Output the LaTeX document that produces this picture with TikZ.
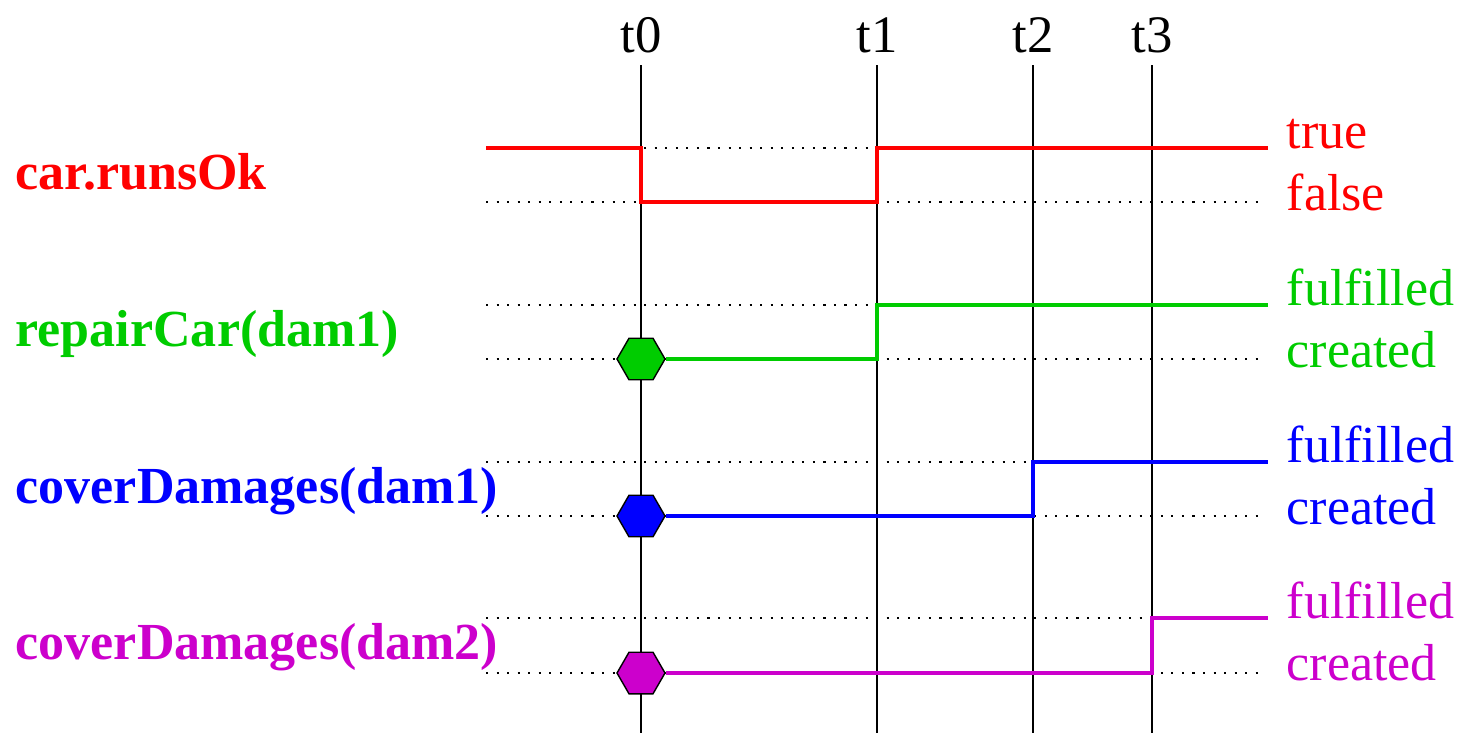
\documentclass[tikz,border=0pt]{standalone}
\usepackage{fontspec}
\setmainfont{Liberation Serif}
\usetikzlibrary{shapes.geometric,positioning,calc}
\definecolor{sigred}{HTML}{FF0000}
\definecolor{siggreen}{HTML}{00CC00}
\definecolor{sigblue}{HTML}{0000FF}
\definecolor{sigmagenta}{HTML}{CC00CC}

\begin{document}
\begin{tikzpicture}[
  tline/.style={line width=0.6pt, black},
  grid/.style={line width=0.6pt, dash pattern=on 0.6pt off 2.4pt},
  sig/.style={line width=1.35pt, draw=#1},
  evt/.style={regular polygon, regular polygon sides=6, draw, line width=0.4pt, fill=#1, minimum size=0.48cm, inner sep=0pt},
  tlab/.style={anchor=base, inner sep=0pt, font=\fontsize{15}{17}\selectfont},
  signame/.style={anchor=base west, inner sep=0pt, text=#1, font=\fontsize{14.8}{17}\selectfont\bfseries},
  sigval/.style={anchor=base west, inner sep=0pt, text=#1, font=\fontsize{14.8}{17}\selectfont}
]
  \useasboundingbox (0,0) rectangle (14.58,-7.33);

  % time lines
  \foreach \n/\x in {0/6.41,1/8.77,2/10.33,3/11.52}{
    \node[tlab] (l\n) at (\x,-0.52) {t\n};
    \coordinate (t\n) at (\x,-0.65);
    \coordinate (b\n) at (\x,-7.33);
    \draw[tline] (t\n) -- (b\n);
  }

  % signal levels
  \coordinate (rH) at (4.86,-1.48);
  \coordinate (rL) at (4.86,-2.02);
  \coordinate (gH) at (4.86,-3.05);
  \coordinate (gL) at (4.86,-3.59);
  \coordinate (bH) at (4.86,-4.62);
  \coordinate (bL) at (4.86,-5.16);
  \coordinate (mH) at (4.86,-6.18);
  \coordinate (mL) at (4.86,-6.73);
  \coordinate (eD) at (12.65,0);
  \coordinate (eS) at (12.68,0);

  % dotted guides
  \foreach \c in {rH,rL,gH,gL,bH,bL,mH,mL}
    \draw[grid] (\c) -- (\c -| eD);

  % names
  \node[signame=sigred] (nr) at (0.15,-1.89) {car.runsOk};
  \node[signame=siggreen] (ng) at (0.15,-3.46) {repairCar(dam1)};
  \node[signame=sigblue] (nb) at (0.15,-5.03) {coverDamages(dam1)};
  \node[signame=sigmagenta] (nm) at (0.15,-6.59) {coverDamages(dam2)};

  % values
  \node[sigval=sigred] (vr1) at (12.86,-1.48) {true};
  \node[sigval=sigred] (vr2) at (12.86,-2.10) {false};
  \node[sigval=siggreen] (vg1) at (12.86,-3.05) {fulfilled};
  \node[sigval=siggreen] (vg2) at (12.86,-3.67) {created};
  \node[sigval=sigblue] (vb1) at (12.86,-4.62) {fulfilled};
  \node[sigval=sigblue] (vb2) at (12.86,-5.24) {created};
  \node[sigval=sigmagenta] (vm1) at (12.86,-6.18) {fulfilled};
  \node[sigval=sigmagenta] (vm2) at (12.86,-6.80) {created};

  % car.runsOk
  \draw[sig=sigred] (rH) -- (rH -| t0) -- (rL -| t0) -- (rL -| t1) -- (rH -| t1) -- (rH -| eS);

  % obligations
  \node[evt=siggreen] (hg) at (gL -| t0) {};
  \draw[sig=siggreen] (hg) -- (gL -| t1) -- (gH -| t1) -- (gH -| eS);

  \node[evt=sigblue] (hb) at (bL -| t0) {};
  \draw[sig=sigblue] (hb) -- (bL -| t2) -- (bH -| t2) -- (bH -| eS);

  \node[evt=sigmagenta] (hm) at (mL -| t0) {};
  \draw[sig=sigmagenta] (hm) -- (mL -| t3) -- (mH -| t3) -- (mH -| eS);
\end{tikzpicture}
\end{document}
